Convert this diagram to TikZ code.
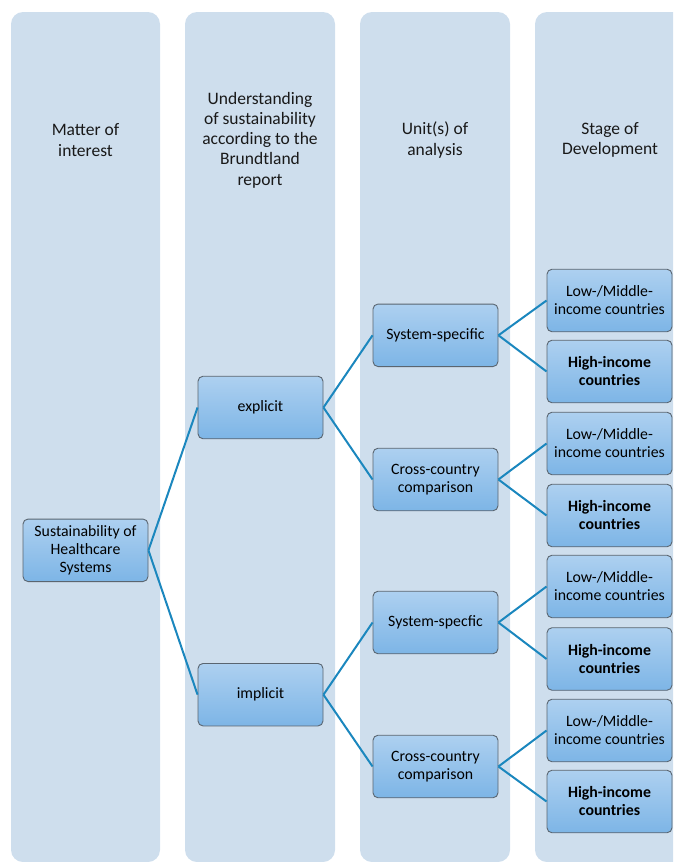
\documentclass[tikz,border=0pt]{standalone}
\usepackage{fontspec}
\setmainfont{Carlito}
\definecolor{colbg}{HTML}{CEDEED}
\definecolor{boxtop}{HTML}{ADD0F0}
\definecolor{boxbot}{HTML}{7DB5E6}
\definecolor{boxedge}{HTML}{5A6570}
\definecolor{linkc}{HTML}{1B87BE}
\begin{document}
\begin{tikzpicture}[x=1pt,y=-1pt,
  column/.style={fill=colbg,draw=none,rounded corners=12pt},
  header/.style={align=center,font=\fontsize{17.5}{20.3}\selectfont,text=black!90},
  box/.style={draw=boxedge,line width=0.9pt,rounded corners=5pt,top color=boxtop,bottom color=boxbot,
    minimum width=125pt,minimum height=62.5pt,inner sep=1pt,align=center,
    font=\fontsize{15.8}{18}\selectfont,text=black},
  hbox/.style={box,font=\fontsize{15.8}{18}\selectfont\bfseries},
  link/.style={draw=linkc,line width=2pt}]
\useasboundingbox (0,0) rectangle (673,862);
\begin{scope}
\clip (0,0) rectangle (673,862);
\fill[column] (11,12) rectangle (160,862);
\fill[column] (185,12) rectangle (335,862);
\fill[column] (360,12) rectangle (510,862);
\fill[column] (535,12) rectangle (690,862);
\end{scope}
% headers
\node[header] (h1) at (85.5,140) {Matter of\\interest};
\node[header] (h2) at (260,140) {Understanding\\of sustainability\\according to the\\Brundtland\\report};
\node[header] (h3) at (435,140) {Unit(s) of\\analysis};
\node[header] (h4) at (610,140) {Stage of\\Development};
% nodes
\node[box] (root) at (85.5,550.3) {Sustainability of\\Healthcare\\Systems};
\node[box] (expl) at (260.5,407.5) {explicit};
\node[box] (impl) at (260.5,694.7) {implicit};
\node[box] (u1) at (435.5,335.3) {System-specific};
\node[box] (u2) at (435.5,479.5) {Cross-country\\comparison};
\node[box] (u3) at (435.5,622.5) {System-specfic};
\node[box] (u4) at (435.5,766.5) {Cross-country\\comparison};
\node[box] (s1) at (609.5,300.5) {Low-/Middle-\\income countries};
\node[hbox] (s2) at (609.5,371.5) {High-income\\countries};
\node[box] (s3) at (609.5,443.5) {Low-/Middle-\\income countries};
\node[hbox] (s4) at (609.5,515.5) {High-income\\countries};
\node[box] (s5) at (609.5,586.5) {Low-/Middle-\\income countries};
\node[hbox] (s6) at (609.5,659) {High-income\\countries};
\node[box] (s7) at (609.5,730.5) {Low-/Middle-\\income countries};
\node[hbox] (s8) at (609.5,801.5) {High-income\\countries};
% links
\draw[link] (root.east) -- (expl.west);
\draw[link] (root.east) -- (impl.west);
\draw[link] (expl.east) -- (u1.west);
\draw[link] (expl.east) -- (u2.west);
\draw[link] (impl.east) -- (u3.west);
\draw[link] (impl.east) -- (u4.west);
\draw[link] (u1.east) -- (s1.west);
\draw[link] (u1.east) -- (s2.west);
\draw[link] (u2.east) -- (s3.west);
\draw[link] (u2.east) -- (s4.west);
\draw[link] (u3.east) -- (s5.west);
\draw[link] (u3.east) -- (s6.west);
\draw[link] (u4.east) -- (s7.west);
\draw[link] (u4.east) -- (s8.west);
\end{tikzpicture}
\end{document}
